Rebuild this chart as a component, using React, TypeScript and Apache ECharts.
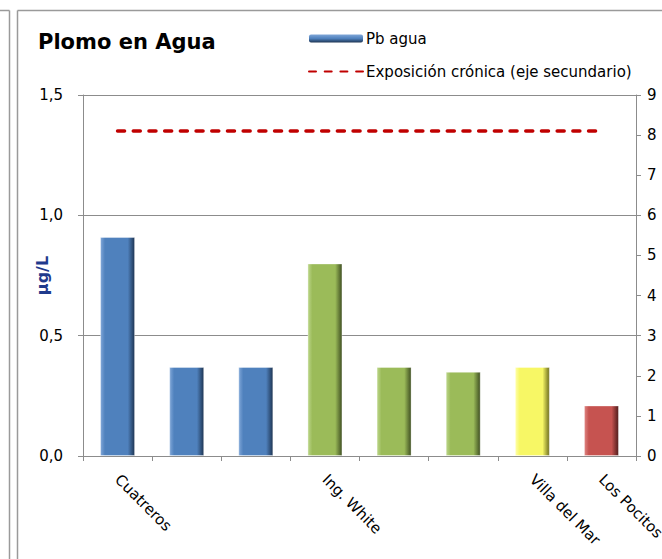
import React, { useEffect, useRef } from "react";
import * as echarts from "echarts";

const categories: string[] = ["Cuatreros", "", "", "Ing. White", "", "", "Villa del Mar", "Los Pocitos"];
const pbAgua: number[] = [0.91, 0.37, 0.37, 0.8, 0.37, 0.35, 0.37, 0.21];
const exposicionCronica: number[] = [8.1, 8.1, 8.1, 8.1, 8.1, 8.1, 8.1, 8.1];
const barGroups: string[] = ["blue", "blue", "blue", "green", "green", "green", "yellow", "red"];
const leftTicks = { min: 0, max: 1.5, interval: 0.5 };
const rightTicks = { min: 0, max: 9, interval: 1 };

const palette: Record<string, { light: string; base: string; dark: string }> = {
  blue: { light: "#7FA6D8", base: "#4F81BD", dark: "#1E3553" },
  green: { light: "#BCD68A", base: "#9BBB59", dark: "#3F4F22" },
  yellow: { light: "#FFFFA8", base: "#F7F765", dark: "#6E6E1E" },
  red: { light: "#DE8582", base: "#C65350", dark: "#4F1B1A" },
};

const barColor = (g: string) => {
  const p = palette[g];
  return new echarts.graphic.LinearGradient(0, 0, 1, 0, [
    { offset: 0, color: p.light },
    { offset: 0.13, color: p.base },
    { offset: 0.8, color: p.base },
    { offset: 1, color: p.dark },
  ]);
};

const FONT = "DejaVu Sans";

export default function App() {
  const ref = useRef<HTMLDivElement>(null);
  useEffect(() => {
    if (!ref.current) return;
    const chart = echarts.init(ref.current, undefined, { renderer: "svg" });
    const frame = "#9a9a9a";
    chart.setOption({
      animation: false,
      backgroundColor: "#ffffff",
      title: {
        text: "Plomo en Agua",
        left: 33,
        top: 26,
        textStyle: { fontFamily: "DejaVu Sans", fontWeight: "bold", fontSize: 21, color: "#000" },
      },
      legend: {
        orient: "vertical",
        left: 303,
        top: 26,
        itemWidth: 54,
        itemHeight: 8,
        itemGap: 18,
        textStyle: { fontFamily: FONT, fontSize: 15, color: "#000", padding: [0, 0, 0, -2] },
        data: [
          {
            name: "Pb agua",
            itemStyle: {
              color: new echarts.graphic.LinearGradient(0, 0, 0, 1, [
                { offset: 0, color: "#7FA6D8" },
                { offset: 0.5, color: "#4F81BD" },
                { offset: 1, color: "#1E3553" },
              ]),
            },
          },
          {
            name: "Exposición crónica (eje secundario)",
            itemStyle: { color: "rgba(0,0,0,0)", borderWidth: 0, opacity: 0 },
          },
        ],
      },
      grid: { left: 83, right: 26, top: 95, bottom: 103, outerBoundsMode: "none", containLabel: false },
      xAxis: {
        type: "category",
        data: categories,
        axisLine: { show: true, lineStyle: { color: "#8c8c8c", width: 1 } },
        axisTick: { show: true, length: 5, lineStyle: { color: "#8c8c8c" } },
        axisLabel: {
          interval: 0,
          rotate: -45,
          margin: 21,
          fontFamily: FONT,
          fontSize: 15,
          color: "#000",
        },
        splitLine: { show: false },
      },
      yAxis: [
        {
          type: "value",
          min: leftTicks.min,
          max: leftTicks.max,
          interval: leftTicks.interval,
          name: "µg/L",
          nameLocation: "middle",
          nameGap: 33,
          nameRotate: 90,
          nameMoveOverlap: false,
          nameTextStyle: { fontFamily: "DejaVu Sans", fontWeight: "bold", fontSize: 16, color: "#1F3A8C" },
          axisLine: { show: true, lineStyle: { color: "#8c8c8c" } },
          axisTick: { show: true, length: 5, lineStyle: { color: "#8c8c8c" } },
          axisLabel: {
            margin: 20,
            fontFamily: FONT,
            fontSize: 15,
            color: "#000",
            formatter: (v: number) => v.toFixed(1).replace(".", ","),
          },
          splitLine: { show: true, lineStyle: { color: "#8c8c8c", width: 1 } },
        },
        {
          type: "value",
          min: rightTicks.min,
          max: rightTicks.max,
          interval: rightTicks.interval,
          position: "right",
          axisLine: { show: true, lineStyle: { color: "#8c8c8c" } },
          axisTick: { show: true, length: 5, lineStyle: { color: "#8c8c8c" } },
          axisLabel: { margin: 11, fontFamily: FONT, fontSize: 15, color: "#000" },
          splitLine: { show: false },
        },
      ],
      series: [
        {
          name: "Pb agua",
          type: "bar",
          yAxisIndex: 0,
          barWidth: 35,
          data: pbAgua.map((v, i) => ({
            value: v,
            itemStyle: { color: barColor(barGroups[i]), borderColor: "rgba(255,255,255,0.35)", borderWidth: 1 },
          })),
        },
        {
          name: "Exposición crónica (eje secundario)",
          type: "line",
          yAxisIndex: 1,
          symbol: "none",
          data: exposicionCronica,
          lineStyle: { color: "#C00000", width: 3.5, type: [7, 8.7], cap: "round" },
          itemStyle: { color: "#C00000" },
          z: 5,
        },
      ],
      graphic: [
        { type: "line", shape: { x1: 0, y1: 10.5, x2: 9.5, y2: 10.5 }, style: { stroke: frame, lineWidth: 1.5 } },
        { type: "line", shape: { x1: 9.5, y1: 10.5, x2: 9.5, y2: 559 }, style: { stroke: frame, lineWidth: 1.5 } },
        { type: "line", shape: { x1: 17.5, y1: 10.5, x2: 662, y2: 10.5 }, style: { stroke: frame, lineWidth: 1.5 } },
        { type: "line", shape: { x1: 17.5, y1: 10.5, x2: 17.5, y2: 559 }, style: { stroke: frame, lineWidth: 1.5 } },
      ],
    });
    return () => chart.dispose();
  }, []);
  return (
    <div
      ref={ref}
      style={{ position: "fixed", left: 0, top: 0, width: 662, height: 559 }}
    />
  );
}
